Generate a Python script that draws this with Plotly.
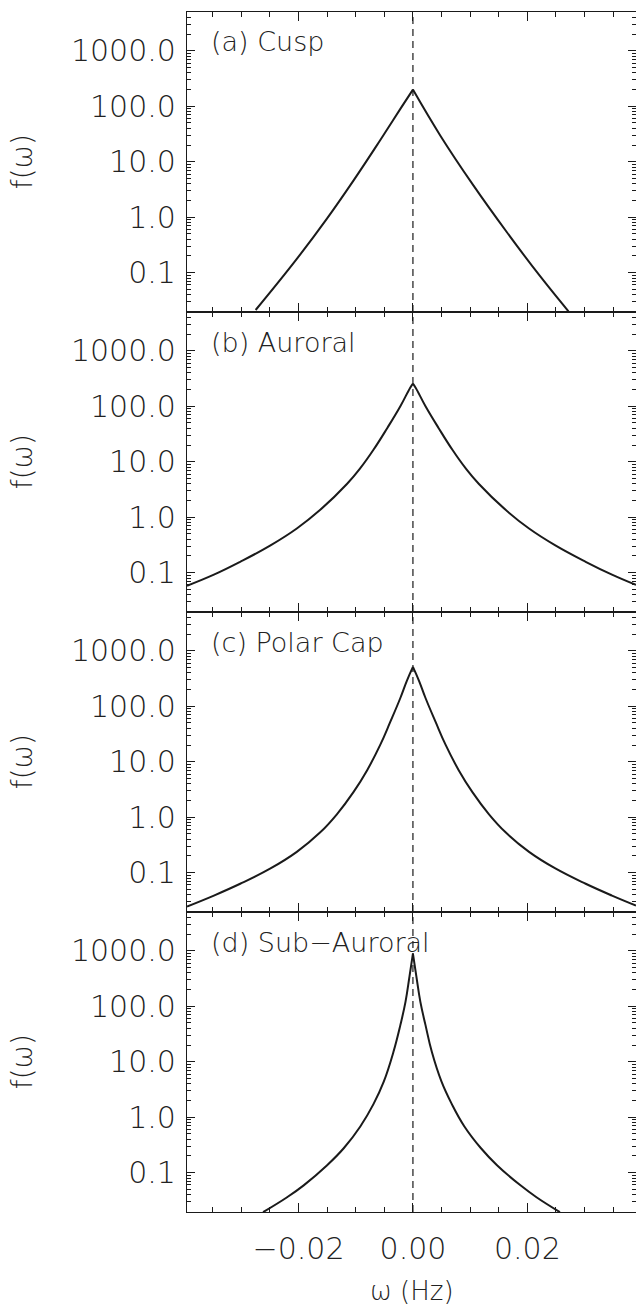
import plotly.graph_objects as go
from plotly.subplots import make_subplots

# ---------------- data ----------------
panel_labels = ["(a) Cusp", "(b) Auroral", "(c) Polar Cap", "(d) Sub\u2212Auroral"]

# (a) Cusp
cusp_w_left = [-0.0275, -0.0203, -0.0150, -0.0104, -0.0057, -0.0022, 0.0]
cusp_f_left = [0.0212, 0.177, 0.953, 4.57, 24.7, 89.7, 200.0]
cusp_w_right = [0.0, 0.0048, 0.0106, 0.0164, 0.0222, 0.0272]
cusp_f_right = [200.0, 29.5, 3.7, 0.54, 0.087, 0.020]

# (b) Auroral
aur_w_left = [-0.0395, -0.0348, -0.0302, -0.0249, -0.0203, -0.0162, -0.0115, -0.0092,
              -0.0069, -0.0045, -0.0022, -0.0005, 0.0]
aur_f_left = [0.058, 0.092, 0.157, 0.31, 0.625, 1.355, 4.0, 7.64, 16.4, 40.3, 100.0,
              214.0, 256.0]
aur_w_right = [0.0, 0.0005, 0.0022, 0.0045, 0.0069, 0.0092, 0.0115, 0.0162, 0.0203,
               0.0249, 0.0302, 0.0348, 0.0390]
aur_f_right = [256.0, 214.0, 100.0, 40.3, 16.4, 7.64, 4.0, 1.355, 0.625, 0.31, 0.157,
               0.092, 0.060]

# (c) Polar Cap
pol_w_left = [-0.0395, -0.0348, -0.0302, -0.0249, -0.0203, -0.0162, -0.0133, -0.0104,
              -0.0080, -0.0057, -0.0040, -0.0022, -0.0011, 0.0]
pol_f_left = [0.0245, 0.0386, 0.063, 0.119, 0.237, 0.533, 1.127, 2.83, 7.05, 20.3, 51.1,
              141.0, 282.0, 513.0]
pol_w_right = [0.0, 0.0011, 0.0022, 0.0040, 0.0057, 0.0080, 0.0104, 0.0133, 0.0162,
               0.0203, 0.0249, 0.0302, 0.0348, 0.0390]
pol_f_right = [513.0, 282.0, 141.0, 51.1, 20.3, 7.05, 2.83, 1.127, 0.533, 0.237, 0.119,
               0.063, 0.0386, 0.0255]

# (d) Sub-Auroral
sub_w_left = [-0.0262, -0.0220, -0.0191, -0.0150, -0.0121, -0.0092, -0.0069, -0.0051,
              -0.0034, -0.0022, -0.0013, -0.0006, 0.0]
sub_f_left = [0.0194, 0.036, 0.059, 0.136, 0.275, 0.68, 1.72, 4.37, 15.1, 45.7, 120.0,
              347.0, 891.0]
sub_w_right = [0.0, 0.0006, 0.0013, 0.0022, 0.0033, 0.0050, 0.0068, 0.0090, 0.0119,
               0.0147, 0.0188, 0.0216, 0.0257]
sub_f_right = [891.0, 347.0, 120.0, 45.7, 15.1, 4.37, 1.72, 0.68, 0.275, 0.136, 0.059,
               0.036, 0.0194]

panels = [
    (cusp_w_left, cusp_f_left, cusp_w_right, cusp_f_right),
    (aur_w_left, aur_f_left, aur_w_right, aur_f_right),
    (pol_w_left, pol_f_left, pol_w_right, pol_f_right),
    (sub_w_left, sub_f_left, sub_w_right, sub_f_right),
]

x_range = [-0.0395, 0.039]
y_range_log = [-1.71, 3.70]
y_minor_ticks = [m * 10.0 ** e for e in range(-2, 4) for m in range(2, 10)]

# ---------------- figure ----------------
FONT = "DejaVu Sans"
INK = "#1a1a1a"
TXT = "#222222"

fig = make_subplots(rows=4, cols=1, shared_xaxes=True, vertical_spacing=0)

axis_common = dict(
    showline=True, linecolor=INK, linewidth=1.2, mirror="ticks",
    ticks="inside", tickcolor=INK, tickwidth=1.2,
    showgrid=False, zeroline=False, automargin=False,
    tickfont=dict(family=FONT, size=30, color=TXT, weight=200),
)

line_style = dict(color=INK, width=2, shape="spline", smoothing=1.2)

for i, (wl, fl, wr, fr) in enumerate(panels):
    r = i + 1
    xname = "x" if r == 1 else f"x{r}"
    main_y = "y" if r == 1 else f"y{r}"
    over_y_num = 4 + r
    # left half drawn on an overlay axis that carries the minor log ticks,
    # right half on the main axis (both axes share the same range)
    fig.add_trace(go.Scatter(
        x=wl, y=fl, mode="lines", line=line_style,
        hoverinfo="skip", showlegend=False,
        xaxis=xname, yaxis=f"y{over_y_num}"))
    fig.add_trace(go.Scatter(
        x=wr, y=fr, mode="lines", line=line_style,
        hoverinfo="skip", showlegend=False,
        xaxis=xname, yaxis=main_y))
    fig.add_vline(x=0, line=dict(color=INK, width=1.2, dash="7px,5px"), row=r, col=1)

    dom = [1 - r * 0.25, 1 - (r - 1) * 0.25]
    fig.update_layout(**{f"yaxis{over_y_num}": dict(
        type="log", range=y_range_log, overlaying=main_y, anchor=xname, domain=dom,
        tickmode="array", tickvals=y_minor_ticks, ticks="inside", ticklen=4,
        tickcolor=INK, tickwidth=1, mirror="ticks", showline=False,
        showticklabels=False, showgrid=False, zeroline=False, automargin=False)})

for r in range(1, 5):
    fig.update_xaxes(
        range=x_range, tickmode="linear", tick0=0, dtick=0.02, tickformat=".2f",
        ticklen=9, showticklabels=(r == 4), ticklabelstandoff=10,
        minor=dict(tick0=0, dtick=0.005, ticks="inside", ticklen=5,
                   tickcolor=INK, tickwidth=1, showgrid=False),
        row=r, col=1, **axis_common)
    fig.update_yaxes(
        type="log", range=y_range_log, tickmode="linear", tick0=0, dtick=1,
        tickformat=".1f", ticklen=8, ticklabelstandoff=4,
        row=r, col=1, **axis_common)

annotations = []
for i, lab in enumerate(panel_labels):
    yref = "y domain" if i == 0 else f"y{i+1} domain"
    xref = "x domain" if i == 0 else f"x{i+1} domain"
    annotations.append(dict(
        text=lab, xref=xref, yref=yref, x=0.049, y=0.9, xanchor="left", yanchor="middle",
        showarrow=False, font=dict(family=FONT, size=27, color=TXT, weight=200)))
    annotations.append(dict(
        text="f(\u03c9)", xref="paper", yref=yref, x=-0.367, y=0.5, xanchor="center",
        yanchor="middle", textangle=-90, showarrow=False,
        font=dict(family=FONT, size=28, color=TXT, weight=200)))

annotations.append(dict(
    text="\u03c9 (Hz)", xref="paper", yref="paper", x=0.502, y=-0.066,
    xanchor="center", yanchor="middle", showarrow=False,
    font=dict(family=FONT, size=26, color=TXT, weight=200)))

fig.update_layout(
    width=636, height=1308,
    margin=dict(l=187, r=0, t=12, b=96),
    paper_bgcolor="white", plot_bgcolor="white",
    annotations=annotations,
    showlegend=False,
)

fig.write_html("out.html", config={"displayModeBar": False},
               post_script="document.body.style.margin='0px';")
